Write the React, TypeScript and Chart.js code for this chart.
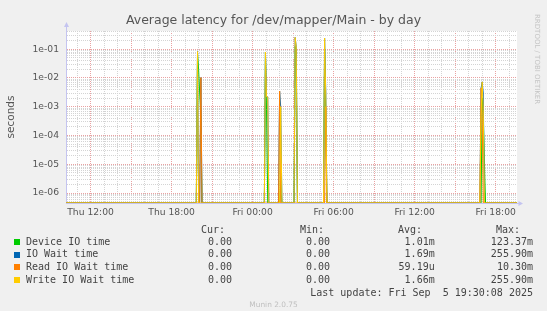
import React, { useEffect, useRef } from 'react';
import { Chart, registerables } from 'chart.js';

Chart.register(...registerables);

// ---------- texts ----------
const TITLE = 'Average latency for /dev/mapper/Main - by day';
const Y_TITLE = 'seconds';
const WATERMARK = 'RRDTOOL / TOBI OETIKER';
const LAST_UPDATE = 'Last update: Fri Sep  5 19:30:08 2025';
const VERSION = 'Munin 2.0.75';

// ---------- axes (hours since Thu 00:00) ----------
const X_MIN_HOURS = 10.18;
const X_MAX_HOURS = 43.58;
const xGridHours = [11, 12, 13, 14, 15, 16, 17, 18, 19, 20, 21, 22, 23, 24, 25, 26, 27, 28, 29, 30, 31, 32, 33, 34, 35, 36, 37, 38, 39, 40, 41, 42, 43];
const xLabelHours = [12, 18, 24, 30, 36, 42];
const xLabels = ['Thu 12:00', 'Thu 18:00', 'Fri 00:00', 'Fri 06:00', 'Fri 12:00', 'Fri 18:00'];

const Y_MIN = 4.5e-7;
const Y_MAX = 0.43;
const yDecades = [-7, -6, -5, -4, -3, -2, -1];
const yMultipliers = [1, 2, 3, 4, 5, 6, 7, 8, 9];

// ---------- series ----------
const seriesNames = ['Device IO time', 'IO Wait time', 'Read IO Wait time', 'Write IO Wait time'];
const seriesColors = ['#00CC00', '#0066B3', '#FF8000', '#FFCC00'];

const sampleHours = [
  10.18,
  19.83, 19.92, 20.0, 20.08, 20.17, 20.25, 20.33,
  24.87, 24.95, 25.03, 25.12, 25.2,
  25.92, 26.0, 26.08, 26.17,
  27.07, 27.15, 27.23, 27.32,
  29.25, 29.33, 29.42, 29.5,
  40.83, 40.92, 41.0, 41.08, 41.17, 41.25,
  43.58,
];

const deviceIO = [
  0,
  0, 0.075, 0.02, 0.003, 0.0004, 0, 0,
  0, 0.078, 0.0008, 0, 0,
  0, 0, 0.000002, 0,
  0, 0.1234, 0.09, 0,
  0, 0.1, 0.0004, 0,
  0, 0, 0.002, 0.0006, 0.00001, 0,
  0,
];
const ioWait = [
  0,
  0, 0.083, 0, 0, 0.0103, 0, 0,
  0, 0.08, 0.0022, 0.0022, 0,
  0, 0.0035, 0.001, 0,
  0, 0.2559, 0.12, 0,
  0, 0.245, 0.003, 0,
  0, 0.0045, 0.0073, 0.003, 0, 0,
  0,
];
const readIOWait = [
  0,
  0, 0, 0, 0, 0.0103, 0, 0,
  0, 0, 0, 0, 0,
  0, 0.0035, 0, 0,
  0, 0, 0, 0,
  0, 0, 0.001, 0,
  0, 0.0045, 0.0005, 0, 0, 0,
  0,
];
const writeIOWait = [
  0,
  0, 0.083, 0, 0, 0, 0, 0,
  0, 0.08, 0.0022, 0.0022, 0,
  0, 0, 0.001, 0,
  0, 0.2559, 0.12, 0,
  0, 0.245, 0.002, 0,
  0, 0.0005, 0.0073, 0.0008, 0, 0,
  0,
];

// ---------- legend table ----------
const curValues = ['0.00', '0.00', '0.00', '0.00'];
const minValues = ['0.00', '0.00', '0.00', '0.00'];
const avgValues = ['1.01m', '1.69m', '59.19u', '1.66m'];
const maxValues = ['123.37m', '255.90m', '10.30m', '255.90m'];
const legendHeaders = ['Cur:', 'Min:', 'Avg:', 'Max:'];

const MAJOR_GRID = '#eaa2a2';
const MINOR_GRID = '#d4d4d4';
const AXIS_COLOR = '#c4c4f0';
const TEXT = '#555555';
const LEGEND_TEXT = '#444444';

const isDecade = (v: number) => Math.abs(Math.log10(v) - Math.round(Math.log10(v))) < 1e-6;

const plotBgPlugin = {
  id: 'plotBg',
  beforeDraw(chart: any) {
    const { ctx, chartArea: a } = chart;
    ctx.save();
    ctx.fillStyle = '#ffffff';
    ctx.fillRect(a.left, a.top, a.right - a.left, a.bottom - a.top);
    ctx.restore();
  },
  afterDraw(chart: any) {
    const { ctx, chartArea: a } = chart;
    ctx.save();
    ctx.strokeStyle = AXIS_COLOR;
    ctx.fillStyle = AXIS_COLOR;
    ctx.lineWidth = 1;
    const lx = Math.round(a.left) + 0.5;
    ctx.beginPath();
    ctx.moveTo(lx, a.top);
    ctx.lineTo(lx, a.top - 5);
    ctx.stroke();
    ctx.beginPath();
    ctx.moveTo(lx - 2.5, a.top - 4);
    ctx.lineTo(lx + 2.5, a.top - 4);
    ctx.lineTo(lx, a.top - 9);
    ctx.closePath();
    ctx.fill();
    const by = Math.round(a.bottom) + 0.5;
    ctx.beginPath();
    ctx.moveTo(a.right, by);
    ctx.lineTo(a.right + 2, by);
    ctx.stroke();
    ctx.beginPath();
    ctx.moveTo(a.right + 1.5, by - 2.5);
    ctx.lineTo(a.right + 1.5, by + 2.5);
    ctx.lineTo(a.right + 6, by);
    ctx.closePath();
    ctx.fill();
    ctx.restore();
  },
};

export default function App() {
  const canvasRef = useRef<HTMLCanvasElement | null>(null);

  useEffect(() => {
    if (!canvasRef.current) return;
    const yGridValues: number[] = [];
    yDecades.forEach((e) => {
      yMultipliers.forEach((m) => {
        const v = Number((m * Math.pow(10, e)).toPrecision(3));
        if (v >= Y_MIN && v <= Y_MAX) yGridValues.push(v);
      });
    });
    const seriesValues = [deviceIO, ioWait, readIOWait, writeIOWait];
    const chart = new Chart(canvasRef.current, {
      type: 'line',
      data: {
        datasets: seriesValues.map((vals, i) => ({
          label: seriesNames[i],
          // zero cannot live on a log axis: it is drawn at the axis floor, as rrdtool does
          data: sampleHours.map((t, j) => ({ x: t, y: vals[j] > 0 ? vals[j] : Y_MIN })),
          borderColor: seriesColors[i],
          backgroundColor: seriesColors[i],
          borderWidth: 1,
          pointRadius: 0,
          tension: 0,
          fill: false,
          order: 4 - i,
        })),
      },
      options: {
        responsive: false,
        animation: false,
        events: [],
        layout: { padding: { left: 0, right: 30, top: 31, bottom: 88 } },
        plugins: {
          legend: { display: false },
          tooltip: { enabled: false },
          title: { display: false },
        },
        scales: {
          x: {
            type: 'linear',
            min: X_MIN_HOURS,
            max: X_MAX_HOURS,
            afterBuildTicks: (scale: any) => {
              scale.ticks = xGridHours.map((v) => ({ value: v }));
            },
            afterFit: (scale: any) => {
              scale.height = 20;
            },
            ticks: {
              autoSkip: false,
              maxRotation: 0,
              minRotation: 0,
              padding: 4,
              color: TEXT,
              font: { family: 'DejaVu Sans', size: 9.2 },
              callback: (v: any) => {
                const i = xLabelHours.indexOf(Number(v));
                return i >= 0 ? xLabels[i] : '';
              },
            },
            grid: {
              drawTicks: false,
              lineWidth: 1,
              color: (c: any) => (c.tick ? (c.tick.value % 3 === 0 ? MAJOR_GRID : MINOR_GRID) : MINOR_GRID),
            },
            border: { display: true, color: AXIS_COLOR, width: 1, dash: [1, 1] },
          },
          y: {
            type: 'logarithmic',
            min: Y_MIN,
            max: Y_MAX,
            afterBuildTicks: (scale: any) => {
              scale.ticks = yGridValues.map((v) => ({ value: v }));
            },
            afterFit: (scale: any) => {
              scale.width = 66;
            },
            ticks: {
              autoSkip: false,
              padding: 7,
              color: TEXT,
              font: { family: 'DejaVu Sans', size: 9.2 },
              callback: (v: any) => {
                const n = Number(v);
                if (!isDecade(n)) return '';
                const e = Math.round(Math.log10(n));
                return '1e' + (e < 0 ? '-' : '+') + String(Math.abs(e)).padStart(2, '0');
              },
            },
            grid: {
              drawTicks: false,
              lineWidth: 1,
              color: (c: any) => (c.tick ? (isDecade(c.tick.value) ? MAJOR_GRID : MINOR_GRID) : MINOR_GRID),
            },
            border: { display: true, color: AXIS_COLOR, width: 1, dash: [1, 1] },
            title: {
              display: true,
              text: Y_TITLE,
              color: TEXT,
              font: { family: 'DejaVu Sans', size: 10.5 },
              padding: { top: 5, bottom: 0 },
            },
          },
        },
      },
      plugins: [plotBgPlugin],
    } as any);
    return () => chart.destroy();
  }, []);

  const mono = "'DejaVu Sans Mono', monospace";
  const rowBaselines = [245.4, 257.9, 270.5, 283.0];
  const colRights = [232, 330, 434.7, 533];
  const headerRights = [225, 324, 422, 520];
  const lh = 12;
  const topFromBaseline = (b: number) => b - 9.46;

  const cell = (text: string, right: number, top: number, key: string) => (
    <span
      key={key}
      style={{
        position: 'absolute',
        right: 547 - right,
        top,
        fontFamily: mono,
        fontSize: 10,
        lineHeight: lh + 'px',
        color: LEGEND_TEXT,
        whiteSpace: 'pre',
      }}
    >
      {text}
    </span>
  );

  return (
    <div
      style={{
        position: 'fixed',
        left: 0,
        top: 0,
        width: 547,
        height: 311,
        background: '#f0f0f0',
        overflow: 'hidden',
      }}
    >
      <canvas ref={canvasRef} width={547} height={311} style={{ position: 'absolute', left: 0, top: 0, display: 'block' }} />
      <div
        style={{
          position: 'absolute',
          left: 0,
          top: 12,
          width: 547,
          textAlign: 'center',
          fontFamily: 'DejaVu Sans',
          fontSize: 12.5,
          lineHeight: '15px',
          color: TEXT,
          whiteSpace: 'pre',
        }}
      >
        {TITLE}
      </div>
      <div
        style={{
          position: 'absolute',
          left: 533,
          top: 14,
          writingMode: 'vertical-rl',
          fontFamily: 'DejaVu Sans',
          fontSize: 7,
          lineHeight: '8px',
          color: '#c4c4c4',
          whiteSpace: 'pre',
        }}
      >
        {WATERMARK}
      </div>
      {legendHeaders.map((h, i) => cell(h, headerRights[i], topFromBaseline(233.1), 'h' + i))}
      {seriesNames.map((name, i) => (
        <React.Fragment key={'r' + i}>
          <span
            style={{
              position: 'absolute',
              left: 14,
              top: rowBaselines[i] - 6.4,
              width: 6,
              height: 6,
              background: seriesColors[i],
            }}
          />
          <span
            style={{
              position: 'absolute',
              left: 26,
              top: topFromBaseline(rowBaselines[i]),
              fontFamily: mono,
              fontSize: 10,
              lineHeight: lh + 'px',
              color: LEGEND_TEXT,
              whiteSpace: 'pre',
            }}
          >
            {name}
          </span>
          {cell(curValues[i], colRights[0], topFromBaseline(rowBaselines[i]), 'c' + i)}
          {cell(minValues[i], colRights[1], topFromBaseline(rowBaselines[i]), 'm' + i)}
          {cell(avgValues[i], colRights[2], topFromBaseline(rowBaselines[i]), 'a' + i)}
          {cell(maxValues[i], colRights[3], topFromBaseline(rowBaselines[i]), 'x' + i)}
        </React.Fragment>
      ))}
      {cell(LAST_UPDATE, 533, topFromBaseline(296), 'lu')}
      <div
        style={{
          position: 'absolute',
          left: 0,
          top: 300,
          width: 547,
          textAlign: 'center',
          fontFamily: 'DejaVu Sans',
          fontSize: 7.4,
          lineHeight: '9px',
          color: '#c0c0c0',
          whiteSpace: 'pre',
        }}
      >
        {VERSION}
      </div>
    </div>
  );
}
